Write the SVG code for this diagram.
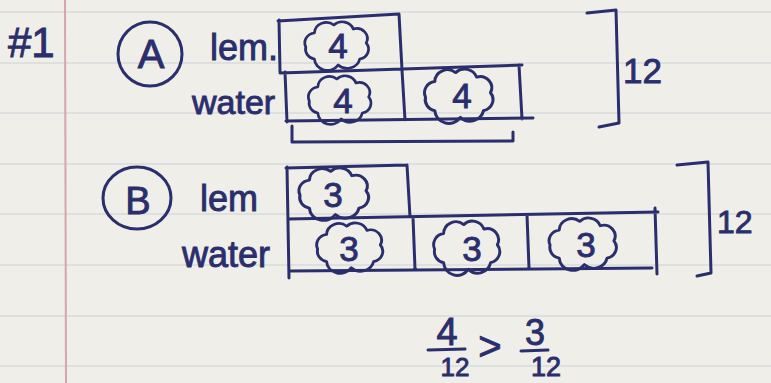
<svg xmlns="http://www.w3.org/2000/svg" width="771" height="383" viewBox="0 0 771 383">
  <style>
    .ink { fill: none; stroke: #2b2e6c; stroke-width: 3; stroke-linecap: round; stroke-linejoin: round; }
    .cloud { fill: none; stroke: #2b2e6c; stroke-width: 2.6; stroke-linejoin: round; }
    .hand { fill: #2b2e6c; stroke: #2b2e6c; stroke-width: 0.9; font-family: "Liberation Sans", "DejaVu Sans", sans-serif; }
    .rule { stroke: #d9dadb; stroke-width: 1.5; }
  </style>
  <defs>
    <!-- scalloped cloud outline, centred on the origin -->
    <path id="cloudShape" d="M -20,14 A 10 10 0 0 1 -28,2 A 10 10 0 0 1 -20,-12 A 11 11 0 0 1 -2,-20 A 11 11 0 0 1 16,-16 A 10 10 0 0 1 28,-2 A 10 10 0 0 1 22,14 A 12 12 0 0 1 2,20 A 12 12 0 0 1 -20,14 Z"/>
  </defs>

  <!-- notebook paper -->
  <rect x="0" y="0" width="771" height="383" fill="#efeee9"/>
  <g id="rules">
    <line class="rule" x1="0" y1="12" x2="771" y2="12"/>
    <line class="rule" x1="0" y1="63" x2="771" y2="63"/>
    <line class="rule" x1="0" y1="113" x2="771" y2="113"/>
    <line class="rule" x1="0" y1="164" x2="771" y2="164"/>
    <line class="rule" x1="0" y1="214" x2="771" y2="214"/>
    <line class="rule" x1="0" y1="265" x2="771" y2="265"/>
    <line class="rule" x1="0" y1="316" x2="771" y2="316"/>
    <line class="rule" x1="0" y1="366" x2="771" y2="366"/>
  </g>
  <line id="margin" x1="65" y1="0" x2="66" y2="383" stroke="#d8a4ab" stroke-width="2"/>

  <!-- problem number -->
  <g id="problem-number">
    <text class="hand" x="8" y="57" font-size="42">#1</text>
  </g>

  <!-- Part A: 1 lemon part to 2 water parts, 4 each -->
  <g id="partA">
    <ellipse class="ink" cx="150" cy="54" rx="32" ry="32"/>
    <text class="hand" x="151" y="68" font-size="40" text-anchor="middle">A</text>
    <text class="hand" x="210" y="60" font-size="36">lem.</text>
    <text class="hand" x="192" y="114" font-size="34">water</text>
  </g>
  <g id="tapeA">
    <path class="ink" d="M278,21 L399,14 M279,20 L280,72 M399,14 L402,70 L405,120 M280,73 L522,65 M285,72 L287,122 M286,121 L533,118 M519,65 L522,119"/>
    <path class="ink" d="M292,126 L292,142 L513,141 L513,132"/>
    <use href="#cloudShape" class="cloud" transform="translate(336,45) scale(1.08,1.0)"/>
    <text class="hand" x="338" y="58" font-size="35" text-anchor="middle">4</text>
    <use href="#cloudShape" class="cloud" transform="translate(339,99) scale(1.06,1.0)"/>
    <text class="hand" x="343" y="113" font-size="35" text-anchor="middle">4</text>
    <use href="#cloudShape" class="cloud" transform="translate(458,95) scale(1.16,1.12)"/>
    <text class="hand" x="462" y="108" font-size="35" text-anchor="middle">4</text>
  </g>
  <g id="totalA">
    <path class="ink" d="M587,13 L616,10 L619,123 L599,127"/>
    <text class="hand" x="623" y="83" font-size="35">12</text>
  </g>

  <!-- Part B: 1 lemon part to 3 water parts, 3 each -->
  <g id="partB">
    <ellipse class="ink" cx="137" cy="198" rx="34" ry="31"/>
    <text class="hand" x="138" y="214" font-size="38" text-anchor="middle">B</text>
    <text class="hand" x="200" y="211" font-size="36">lem</text>
    <text class="hand" x="182" y="267" font-size="36">water</text>
  </g>
  <g id="tapeB">
    <path class="ink" d="M286,168 L407,165 M287,167 L289,278 M407,165 L410,217 M413,217 L415,269 M288,219 L658,212 M289,271 L652,268 M527,215 L529,268 M655,208 L657,274"/>
    <use href="#cloudShape" class="cloud" transform="translate(333,193) scale(1.18,1.08)"/>
    <text class="hand" x="333" y="207" font-size="35" text-anchor="middle">3</text>
    <use href="#cloudShape" class="cloud" transform="translate(349,247) scale(1.12,1.04)"/>
    <text class="hand" x="349" y="261" font-size="35" text-anchor="middle">3</text>
    <use href="#cloudShape" class="cloud" transform="translate(466,247) scale(1.12,1.12)"/>
    <text class="hand" x="472" y="261" font-size="35" text-anchor="middle">3</text>
    <use href="#cloudShape" class="cloud" transform="translate(582,243) scale(1.14,1.08)"/>
    <text class="hand" x="586" y="257" font-size="35" text-anchor="middle">3</text>
  </g>
  <g id="totalB">
    <path class="ink" d="M677,165 L708,162 L711,273 L697,276"/>
    <text class="hand" x="717" y="233" font-size="32">12</text>
  </g>

  <!-- comparison of the two fractions -->
  <g id="comparison">
    <text class="hand" x="447" y="345" font-size="38" text-anchor="middle">4</text>
    <path class="ink" d="M428,350 L465,349"/>
    <text class="hand" x="455" y="376" font-size="26" text-anchor="middle">12</text>
    <text class="hand" x="490" y="360" font-size="40" text-anchor="middle">&gt;</text>
    <text class="hand" x="535" y="345" font-size="36" text-anchor="middle">3</text>
    <path class="ink" d="M521,351 L548,350"/>
    <text class="hand" x="546" y="376" font-size="27" text-anchor="middle">12</text>
  </g>
</svg>
